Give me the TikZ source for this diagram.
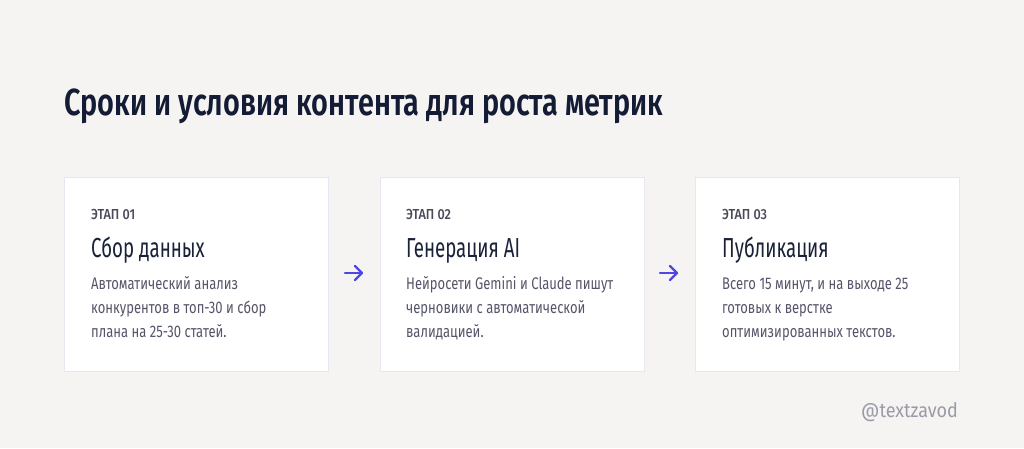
\documentclass[tikz,border=0pt]{standalone}
\usepackage{fontspec}
\usetikzlibrary{calc}
\setmainfont{Fira Sans}[FakeStretch=0.775]
\newfontfamily\titlefont{Fira Sans}[FakeStretch=0.765,UprightFont=* SemiBold]
\newfontfamily\headfont{Fira Sans}[FakeStretch=0.68]
\newfontfamily\labelfont{Fira Sans}[FakeStretch=0.87,UprightFont=* Medium]
\newfontfamily\handlefont{Fira Sans}[FakeStretch=0.9]
\definecolor{bgc}{HTML}{F5F4F2}
\definecolor{cardborder}{HTML}{E6E6F5}
\definecolor{titlec}{HTML}{141B34}
\definecolor{headc}{HTML}{1A2238}
\definecolor{labelc}{HTML}{4A4A5A}
\definecolor{bodyc}{HTML}{55556A}
\definecolor{handlec}{HTML}{9B9BA8}
\definecolor{arrowc}{HTML}{4F46E5}
\begin{document}
\begin{tikzpicture}[x=1pt,y=-1pt,
  card/.style={draw=cardborder, line width=1pt, fill=white},
  lbl/.style={anchor=base west, inner sep=0pt, text=labelc, font=\labelfont\fontsize{14.5}{17}\selectfont},
  head/.style={anchor=base west, inner sep=0pt, text=headc, font=\headfont\fontsize{27.5}{32}\selectfont},
  body/.style={anchor=base west, inner sep=0pt, text=bodyc, align=left, font=\fontsize{16.8}{24}\selectfont},
  flow/.style={draw=arrowc, line width=2.4pt, line cap=round, line join=round}
]
\fill[bgc] (0,0) rectangle (1024,448);
\useasboundingbox (0,0) rectangle (1024,448);
\node[anchor=base west, inner sep=0pt, text=titlec, font=\titlefont\fontsize{37.7}{44}\selectfont] (title) at (64,115) {Сроки и условия контента для роста метрик};

\draw[card] (64.5,177.5) rectangle (328,371);
\draw[card] (380.5,177.5) rectangle (644,371);
\draw[card] (695.5,177.5) rectangle (959,371);

% body nodes: base anchor is the last line's baseline (first line at 289.5)
\node[lbl] (l1) at (91,219) {ЭТАП 01};
\node[head] (h1) at (91,257) {Сбор данных};
\node[body] (b1) at (91,337.5) {Автоматический анализ\\конкурентов в топ-30 и сбор\\плана на 25-30 статей.};

\node[lbl] (l2) at (406,219) {ЭТАП 02};
\node[head] (h2) at (406,257) {Генерация AI};
\node[body] (b2) at (406,337.5) {Нейросети Gemini и Claude пишут\\черновики с автоматической\\валидацией.};

\node[lbl] (l3) at (722,219) {ЭТАП 03};
\node[head] (h3) at (722,257) {Публикация};
\node[body] (b3) at (722,337.5) {Всего 15 минут, и на выходе 25\\готовых к верстке\\оптимизированных текстов.};

\coordinate (a1s) at (345,273);
\coordinate (a1e) at (362,273);
\coordinate (a2s) at (660,273);
\coordinate (a2e) at (677,273);
\draw[flow] (a1s) -- (a1e);
\draw[flow] ($(a1e)+(-7,-7)$) -- (a1e) -- ($(a1e)+(-7,7)$);
\draw[flow] (a2s) -- (a2e);
\draw[flow] ($(a2e)+(-7,-7)$) -- (a2e) -- ($(a2e)+(-7,7)$);

\node[anchor=base east, inner sep=0pt, text=handlec, font=\handlefont\fontsize{20}{24}\selectfont] (handle) at (958,417) {@textzavod};
\end{tikzpicture}
\end{document}
